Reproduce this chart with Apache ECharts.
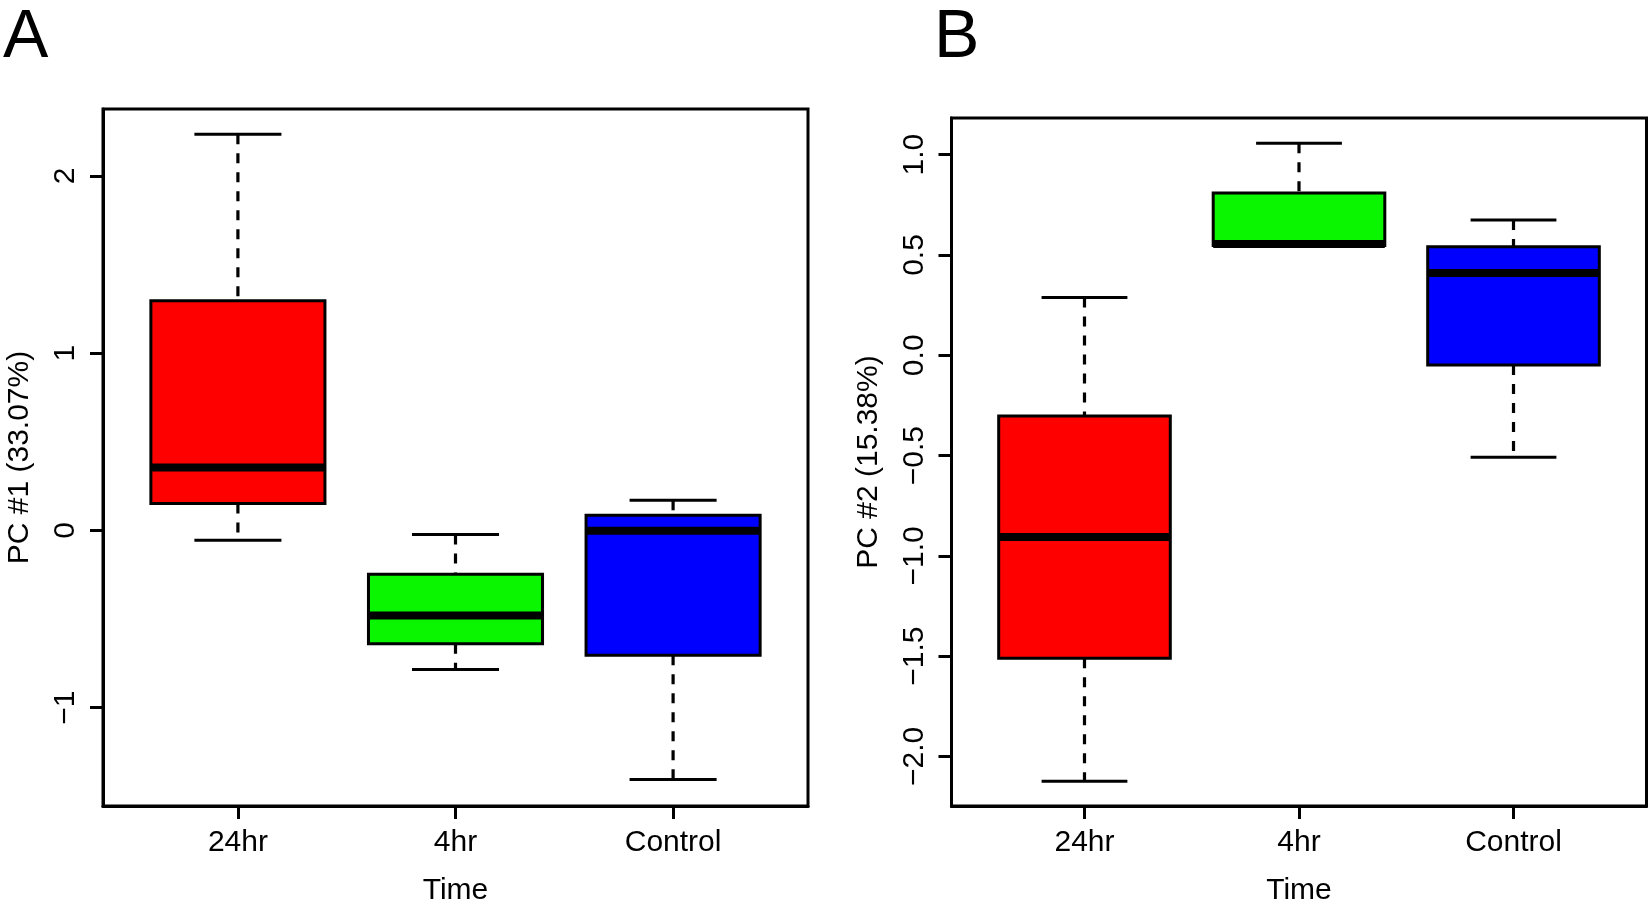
<!DOCTYPE html>
<html><head><meta charset="utf-8">
<script src="https://cdn.jsdelivr.net/npm/echarts@6/dist/echarts.min.js"></script>
<style>html,body{margin:0;padding:0;background:#fff}#c{width:1649px;height:911px}</style>
</head><body><div id="c"></div>
<script>
const categories = ['24hr', '4hr', 'Control'];
const boxColors = ['#ff0000', '#0af500', '#0000ff'];
// Panel A: PC #1
const pc1Low = [-0.055, -0.785, -1.405];
const pc1Q1 = [0.152, -0.640, -0.705];
const pc1Median = [0.355, -0.480, -0.002];
const pc1Q3 = [1.296, -0.247, 0.085];
const pc1High = [2.236, -0.023, 0.170];
const pc1Ticks = [-1, 0, 1, 2];
// Panel B: PC #2
const pc2Low = [-2.123, 0.547, -0.508];
const pc2Q1 = [-1.511, 0.547, -0.049];
const pc2Median = [-0.906, 0.555, 0.410];
const pc2Q3 = [-0.303, 0.809, 0.541];
const pc2High = [0.288, 1.057, 0.675];
const pc2Ticks = [-2.0, -1.5, -1.0, -0.5, 0.0, 0.5, 1.0];

const FONT = 'Liberation Sans, Arial, Helvetica, sans-serif';

function buildData(low, q1, med, q3, high) {
  return categories.map((c, i) => [i + 1, low[i], q1[i], med[i], q3[i], high[i]]);
}

function renderBox(params, api) {
  const x = api.value(0);
  const lo = api.coord([x, api.value(1)]);
  const q1 = api.coord([x, api.value(2)]);
  const md = api.coord([x, api.value(3)]);
  const q3 = api.coord([x, api.value(4)]);
  const hi = api.coord([x, api.value(5)]);
  const boxL = api.coord([x - 0.4, 0])[0];
  const boxR = api.coord([x + 0.4, 0])[0];
  const capL = api.coord([x - 0.2, 0])[0];
  const capR = api.coord([x + 0.2, 0])[0];
  const cx = lo[0];
  const dashStyle = { stroke: '#000', lineWidth: 3.2, lineDash: [10, 9] };
  const solid = { stroke: '#000', lineWidth: 3 };
  const children = [];
  if (hi[1] < q3[1] - 1) children.push({ type: 'line', shape: { x1: cx, y1: hi[1], x2: cx, y2: q3[1] }, style: dashStyle });
  if (lo[1] > q1[1] + 1) children.push({ type: 'line', shape: { x1: cx, y1: q1[1], x2: cx, y2: lo[1] }, style: dashStyle });
  children.push({ type: 'line', shape: { x1: capL, y1: hi[1], x2: capR, y2: hi[1] }, style: solid });
  if (lo[1] > q1[1] + 1) children.push({ type: 'line', shape: { x1: capL, y1: lo[1], x2: capR, y2: lo[1] }, style: solid });
  children.push({ type: 'rect', shape: { x: boxL, y: q3[1], width: boxR - boxL, height: q1[1] - q3[1] },
    style: { fill: boxColors[params.dataIndex], stroke: '#000', lineWidth: 3 } });
  children.push({ type: 'line', shape: { x1: boxL, y1: md[1], x2: boxR, y2: md[1] }, style: { stroke: '#000', lineWidth: 8 } });
  return { type: 'group', children };
}

function xAxisCfg(gridIndex) {
  return {
    type: 'value', gridIndex, min: 0.38, max: 3.62,
    name: 'Time', nameLocation: 'middle', nameGap: 70,
    nameTextStyle: { fontFamily: FONT, fontSize: 30, color: '#000' },
    axisLine: { show: true, onZero: false, lineStyle: { color: '#000', width: 3 } },
    axisTick: { show: true, length: 13, lineStyle: { color: '#000', width: 3 }, customValues: [1, 2, 3] },
    axisLabel: { fontFamily: FONT, fontSize: 30, color: '#000', margin: 22, customValues: [1, 2, 3],
      formatter: v => categories[Math.round(v) - 1] || '' },
    splitLine: { show: false }
  };
}
function yAxisCfg(gridIndex, min, max, ticks, name, fmt) {
  return {
    type: 'value', gridIndex, min, max,
    name, nameLocation: 'middle', nameGap: 68, nameRotate: 90,
    nameTextStyle: { fontFamily: FONT, fontSize: 30, color: '#000' },
    axisLine: { show: true, onZero: false, lineStyle: { color: '#000', width: 3 } },
    axisTick: { show: true, length: 13, lineStyle: { color: '#000', width: 3 }, customValues: ticks },
    axisLabel: { fontFamily: FONT, fontSize: 30, color: '#000', rotate: 90, margin: 22, customValues: ticks,
      formatter: fmt },
    splitLine: { show: false }
  };
}

const chart = echarts.init(document.getElementById('c'), null, { renderer: 'canvas' });
chart.setOption({
  animation: false,
  backgroundColor: '#fff',
  graphic: [
    { type: 'text', left: 3, top: 4, style: { text: 'A', fontFamily: FONT, fontSize: 68, fill: '#000' } },
    { type: 'text', left: 934, top: 4, style: { text: 'B', fontFamily: FONT, fontSize: 68, fill: '#000' } }
  ],
  grid: [
    { left: 103, top: 109, width: 705, height: 706, show: true, borderColor: '#000', borderWidth: 3, backgroundColor: 'transparent' },
    { left: 951.5, top: 118, width: 695, height: 691, show: true, borderColor: '#000', borderWidth: 3, backgroundColor: 'transparent' }
  ],
  xAxis: [xAxisCfg(0), xAxisCfg(1)],
  yAxis: [
    yAxisCfg(0, -1.555, 2.378, pc1Ticks, 'PC #1 (33.07%)', v => (v < 0 ? '\u2212' : '') + Math.abs(Math.round(v))),
    yAxisCfg(1, -2.247, 1.183, pc2Ticks, 'PC #2 (15.38%)', v => (v < 0 ? '\u2212' : '') + Math.abs(v).toFixed(1))
  ],
  series: [
    { type: 'custom', xAxisIndex: 0, yAxisIndex: 0, renderItem: renderBox, encode: { x: 0, y: [1, 2, 3, 4, 5] },
      data: buildData(pc1Low, pc1Q1, pc1Median, pc1Q3, pc1High) },
    { type: 'custom', xAxisIndex: 1, yAxisIndex: 1, renderItem: renderBox, encode: { x: 0, y: [1, 2, 3, 4, 5] },
      data: buildData(pc2Low, pc2Q1, pc2Median, pc2Q3, pc2High) }
  ]
});
</script></body></html>
